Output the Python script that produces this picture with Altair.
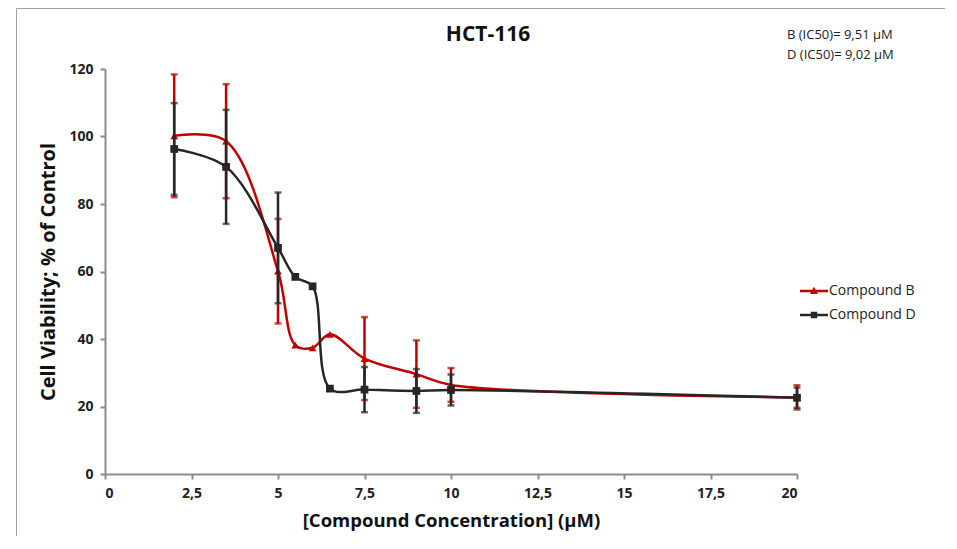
import altair as alt
import pandas as pd
import numpy as np

# ---- data ----
conc = [2, 3.5, 5, 5.5, 6, 6.5, 7.5, 9, 10, 20]
b_mean = [100.2, 98.6, 60.1, 38.2, 37.4, 41.4, 34.2, 29.6, 26.4, 22.7]
b_sd = [18.2, 16.9, 15.5, np.nan, np.nan, np.nan, 12.3, 10.0, 5.0, 3.6]
d_mean = [96.3, 91.0, 67.0, 58.4, 55.6, 25.3, 25.0, 24.6, 24.9, 22.6]
d_sd = [13.6, 16.9, 16.4, np.nan, np.nan, np.nan, 6.7, 6.5, 4.6, 3.0]

series = ["Compound B", "Compound D"]
colors = ["#C00000", "#262626"]
shapes = ["triangle-up", "square"]
x_ticks = [0, 2.5, 5, 7.5, 10, 12.5, 15, 17.5, 20]
y_ticks = [0, 20, 40, 60, 80, 100, 120]
title_text = "HCT-116"
annot_lines = ["B (IC50)= 9,51 µM", "D (IC50)= 9,02  µM"]
x_title = "[Compound Concentration] (µM)"
y_title = "Cell Viability; % of Control"

rows = []
for name, means, sds in [(series[0], b_mean, b_sd), (series[1], d_mean, d_sd)]:
    for i, (c, m, s) in enumerate(zip(conc, means, sds)):
        rows.append({"series": name, "conc": c, "mean": m, "sd": s, "order": i,
                     "lo": m - s if not np.isnan(s) else np.nan,
                     "hi": m + s if not np.isnan(s) else np.nan})
df = pd.DataFrame(rows)

FONT = "Open Sans, sans-serif"
AXIS_COLOR = "#8c8c8c"

xscale = alt.Scale(domain=[0, 20], nice=False)
yscale = alt.Scale(domain=[0, 120], nice=False)

x_enc = alt.X("conc:Q", scale=xscale,
              axis=alt.Axis(values=x_ticks, title=x_title, titleFontSize=18.5,
                            labelExpr="replace(format(datum.value, ''), '.', ',')"))
y_enc = alt.Y("mean:Q", scale=yscale,
              axis=alt.Axis(values=y_ticks, title=y_title, titleFontSize=20))

base = alt.Chart(df)

layers = []
for name, col, shp in zip(series, colors, shapes):
    sub = base.transform_filter(alt.datum.series == name)
    err = sub.transform_filter("isValid(datum.sd)")
    layers.append(err.mark_rule(color=col, strokeWidth=2.5).encode(
        x="conc:Q", y=alt.Y("lo:Q", scale=yscale), y2="hi:Q"))
    layers.append(err.mark_tick(color=col, orient="horizontal", size=7, thickness=2.5).encode(
        x="conc:Q", y=alt.Y("lo:Q", scale=yscale)))
    layers.append(err.mark_tick(color=col, orient="horizontal", size=7, thickness=2.5).encode(
        x="conc:Q", y=alt.Y("hi:Q", scale=yscale)))
    layers.append(sub.mark_line(color=col, strokeWidth=2.5, interpolate="catmull-rom").encode(
        x=x_enc, y=y_enc, order="order:Q"))
    layers.append(sub.mark_point(filled=True, opacity=1, size=60, shape=shp, color=col).encode(
        x="conc:Q", y="mean:Q"))

# legend: symbols drawn as a line with the marker on it
legend_paths = ["M-1.4,-0.12H1.4V0.12H-1.4Z M0,-0.42L0.4,0.3H-0.4Z",
                "M-1.4,-0.12H1.4V0.12H-1.4Z M-0.32,-0.32H0.32V0.32H-0.32Z"]
leg = dict(title=None, orient="none", legendX=699, legendY=212,
           symbolSize=400, labelFontSize=14, labelFont=FONT,
           labelColor="#222222", rowPadding=7, labelOffset=5,
           padding=0, symbolOpacity=1, symbolStrokeWidth=0)
legend_layer = base.transform_filter("false").mark_point(filled=True, opacity=1).encode(
    x="conc:Q", y="mean:Q",
    color=alt.Color("series:N", scale=alt.Scale(domain=series, range=colors),
                    legend=alt.Legend(**leg)),
    shape=alt.Shape("series:N", scale=alt.Scale(domain=series, range=legend_paths),
                    legend=alt.Legend(**leg)),
)
layers.append(legend_layer)

one = alt.Chart(pd.DataFrame({"t": ["\n".join(annot_lines)], "title": [title_text]}))
annot = one.mark_text(align="left", baseline="middle", fontSize=13, font=FONT,
                      lineBreak="\n", lineHeight=20, color="#222222").encode(
    text="t:N", x=alt.value(682), y=alt.value(-34))
title_mark = one.mark_text(align="center", baseline="middle", fontSize=21, font=FONT,
                           fontWeight="bold", color="#111111").encode(
    text="title:N", x=alt.value(383), y=alt.value(-34))
frame = one.mark_rect(fill="transparent", stroke="#a0a0a0", strokeWidth=1).encode(
    x=alt.value(-88.5), x2=alt.value(1500), y=alt.value(-60.5), y2=alt.value(1500))

chart = alt.layer(frame, *layers, annot, title_mark).properties(
    width=692, height=405,
    autosize=alt.AutoSizeParams(type="none"),
    padding={"left": 97, "top": 61, "right": 148, "bottom": 62},
).configure_view(stroke=None).configure_axis(
    domainColor=AXIS_COLOR, domainWidth=2, tickColor=AXIS_COLOR, tickWidth=2, tickSize=5,
    grid=False, labelFont=FONT, labelFontSize=14, labelFontWeight="bold", labelColor="#222222",
    titleFont=FONT, titleFontWeight="bold", titleColor="#111111",
    labelPadding=7,
).configure_axisX(titlePadding=11).configure_axisY(titlePadding=10)

chart.save("out.html", embed_options={"renderer": "svg", "actions": False})
